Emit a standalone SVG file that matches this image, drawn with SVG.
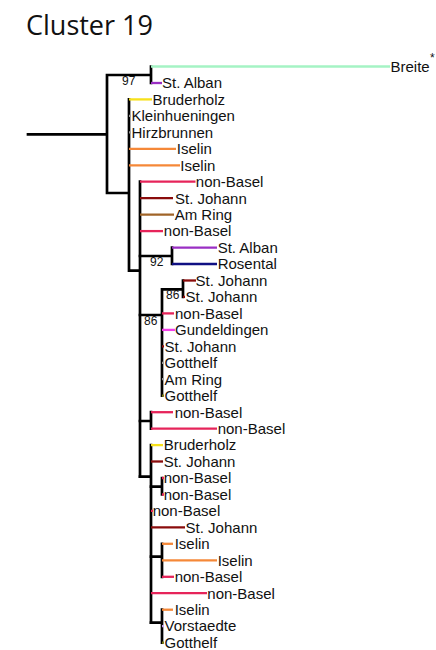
<svg xmlns="http://www.w3.org/2000/svg" width="436" height="650" viewBox="0 0 436 650">
<style>
.t{font-family:"Liberation Sans",Arial,sans-serif;font-size:15px;fill:#111}
.b{font-family:"Liberation Sans",Arial,sans-serif;font-size:12px;fill:#111}
.e{stroke:#000;stroke-width:2.7;fill:none;stroke-linecap:square}
.e2{stroke:#000;stroke-width:2.2;fill:none;stroke-linecap:square}
.tip{stroke-width:2.3;fill:none}
.g{stroke:#a5f3c4}.p{stroke:#9a2fc4}.y{stroke:#f7e11a}.o{stroke:#f58838}.r{stroke:#e6245a}.d{stroke:#8a0c0c}.br{stroke:#a06428}.n{stroke:#101083}.m{stroke:#f23ee8}.ol{stroke:#7d7d10}.gr{stroke:#9a9a9a}.lv{stroke:#c4a2ee}
</style>
<text x="26" y="35" font-family="'Open Sans',sans-serif" font-size="27" fill="#111">Cluster 19</text>
<g id="connectors">
<path class="e" d="M28 134.3H107M107 75V193M107 75H151M151 66.5V83M107 193H129M129 99.4V270.7M129 270.7H140M140 181.7V476.7"/>
<path class="e" d="M140 256H172M172 247.6V264M140 315H162M162 289.3V395.7M162 289.3H183M183 280.5V296.9"/>
<path class="e" d="M140 421H151M151 412.2V428.6M140 476.7H151M151 445.1V622.7"/>
<path class="e" d="M151 486.7H162M162 478V494.5M151 556.7H162M162 543.8V576.8M151 622.7H162M162 609.7V642.6"/>
</g>
<g id="n97"><text class="b" x="122" y="85">97</text></g>
<g id="n92"><text class="b" x="150" y="265.7">92</text></g>
<g id="n86a"><text class="b" x="144" y="325">86</text></g>
<g id="n86b"><text class="b" x="166" y="299.3">86</text></g>
<g id="leaf0"><path class="tip g" d="M151 66.5H390"/><text class="t" x="390.5" y="71.8">Breite</text><text class="b" x="430" y="62" font-size="11">*</text></g>
<g id="leaf1"><path class="tip p" d="M151 83H162"/><text class="t" x="162" y="88.3">St. Alban</text></g>
<g id="leaf2"><path class="tip y" d="M129 99.4H152"/><text class="t" x="152.5" y="104.7">Bruderholz</text></g>
<g id="leaf3"><path class="tip gr" d="M129 115.9H131"/><text class="t" x="131.5" y="121.2">Kleinhueningen</text></g>
<g id="leaf4"><path class="tip gr" d="M129 132.3H131"/><text class="t" x="131.5" y="137.6">Hirzbrunnen</text></g>
<g id="leaf5"><path class="tip o" d="M129 148.8H176"/><text class="t" x="176.8" y="154.1">Iselin</text></g>
<g id="leaf6"><path class="tip o" d="M129 165.3H180"/><text class="t" x="180.3" y="170.6">Iselin</text></g>
<g id="leaf7"><path class="tip r" d="M140 181.7H195.5"/><text class="t" x="195.8" y="187">non-Basel</text></g>
<g id="leaf8"><path class="tip d" d="M140 198.2H173"/><text class="t" x="175" y="203.5">St. Johann</text></g>
<g id="leaf9"><path class="tip br" d="M140 214.6H174"/><text class="t" x="174.7" y="219.9">Am Ring</text></g>
<g id="leaf10"><path class="tip r" d="M140 231.1H163"/><text class="t" x="163.8" y="236.4">non-Basel</text></g>
<g id="leaf11"><path class="tip p" d="M172 247.6H217"/><text class="t" x="217.7" y="252.9">St. Alban</text></g>
<g id="leaf12"><path class="tip n" d="M172 264H217"/><text class="t" x="217.7" y="269.3">Rosental</text></g>
<g id="leaf13"><path class="tip d" d="M183 280.5H196"/><text class="t" x="195.6" y="285.8">St. Johann</text></g>
<g id="leaf14"><path class="tip d" d="M183 296.9H185"/><text class="t" x="185.6" y="302.2">St. Johann</text></g>
<g id="leaf15"><path class="tip r" d="M162 313.4H174"/><text class="t" x="175" y="318.7">non-Basel</text></g>
<g id="leaf16"><path class="tip m" d="M162 329.9H175"/><text class="t" x="175" y="335.2">Gundeldingen</text></g>
<g id="leaf17"><path class="tip d" d="M162 346.3H164"/><text class="t" x="164.6" y="351.6">St. Johann</text></g>
<g id="leaf18"><path class="tip gr" d="M162 362.8H164"/><text class="t" x="164.6" y="368.1">Gotthelf</text></g>
<g id="leaf19"><path class="tip gr" d="M162 379.2H164"/><text class="t" x="164.6" y="384.5">Am Ring</text></g>
<g id="leaf20"><path class="tip ol" d="M162 395.7H164"/><text class="t" x="164.6" y="401">Gotthelf</text></g>
<g id="leaf21"><path class="tip r" d="M151 412.2H173"/><text class="t" x="174.7" y="417.5">non-Basel</text></g>
<g id="leaf22"><path class="tip r" d="M151 428.6H217"/><text class="t" x="217.7" y="433.9">non-Basel</text></g>
<g id="leaf23"><path class="tip y" d="M151 445.1H163"/><text class="t" x="163.7" y="450.4">Bruderholz</text></g>
<g id="leaf24"><path class="tip d" d="M151 461.5H163"/><text class="t" x="163.7" y="466.8">St. Johann</text></g>
<g id="leaf25"><path class="tip r" d="M162 478H164"/><text class="t" x="163.7" y="483.3">non-Basel</text></g>
<g id="leaf26"><path class="tip r" d="M162 494.5H164"/><text class="t" x="163.7" y="499.8">non-Basel</text></g>
<g id="leaf27"><path class="tip r" d="M151 510.9H153"/><text class="t" x="152.7" y="516.2">non-Basel</text></g>
<g id="leaf28"><path class="tip d" d="M151 527.4H185"/><text class="t" x="185.6" y="532.7">St. Johann</text></g>
<g id="leaf29"><path class="tip o" d="M162 543.8H173"/><text class="t" x="174.7" y="549.1">Iselin</text></g>
<g id="leaf30"><path class="tip o" d="M162 560.3H217"/><text class="t" x="217.7" y="565.6">Iselin</text></g>
<g id="leaf31"><path class="tip r" d="M162 576.8H174"/><text class="t" x="174.7" y="582.1">non-Basel</text></g>
<g id="leaf32"><path class="tip r" d="M151 593.2H207"/><text class="t" x="207.3" y="598.5">non-Basel</text></g>
<g id="leaf33"><path class="tip o" d="M162 609.7H173"/><text class="t" x="174.7" y="615">Iselin</text></g>
<g id="leaf34"><path class="tip lv" d="M162 626.1H164"/><text class="t" x="164.6" y="631.4">Vorstaedte</text></g>
<g id="leaf35"><path class="tip ol" d="M162 642.6H164"/><text class="t" x="164.6" y="647.9">Gotthelf</text></g>
</svg>
